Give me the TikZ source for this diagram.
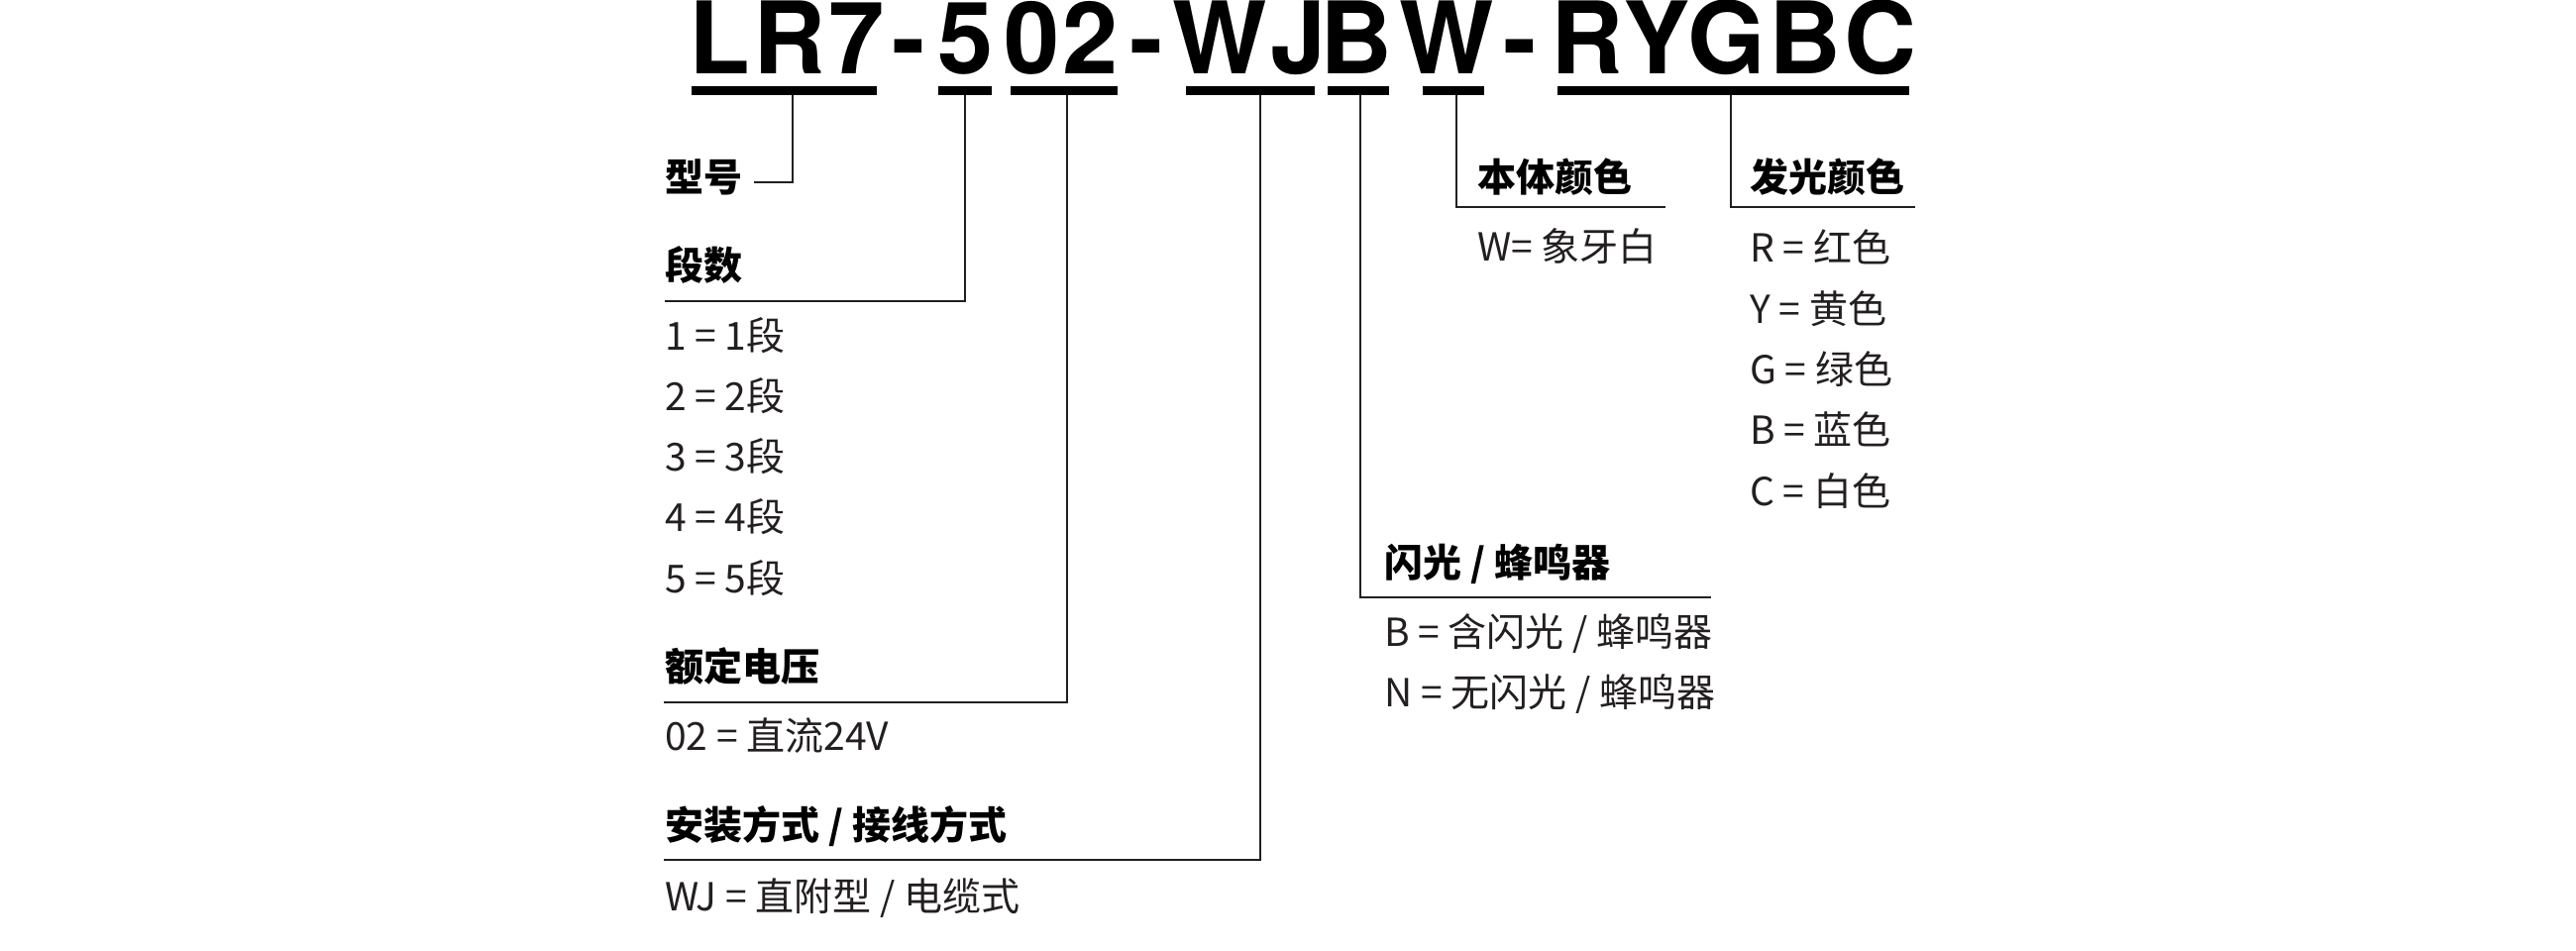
\documentclass[tikz,border=0pt]{standalone}
\usepackage{fontspec}
\usepackage{xcolor}
\newfontfamily\cjk{Noto Sans CJK SC}
\newfontfamily\codefont{TeX Gyre Heros}[LetterSpace=3.5]
\usetikzlibrary{positioning}
\definecolor{inkgray}{HTML}{231F20}

\tikzset{
    code/.style={font=\codefont\bfseries\fontsize{101}{101}\selectfont, inner sep=0pt, anchor=base west},
    codebar/.style={line width=9pt, line cap=butt},
    head/.style={font=\cjk\bfseries\fontsize{39}{39}\selectfont, text=black, inner sep=0pt, anchor=base west},
    val/.style={font=\cjk\fontsize{39}{39}\selectfont, text=inkgray, inner sep=0pt, anchor=base west},
    nextrow/.style={below=61.3pt of #1.base west, anchor=base west},
    lead/.style={draw=inkgray, line width=1.5pt}
}

\begin{document}
\begin{tikzpicture}[x=1pt, y=-1pt]

    \useasboundingbox (0,0) rectangle (2600,960);

    % code string
    \node[code] (lr7) at (695,75) {LR7};
    \node[code] (d1) at (900,75) {-};
    \node[code] (n5) at (946,75) {5};
    \node[code] (n02) at (1013,75) {02};
    \node[code] (d2) at (1140,75) {-};
    \node[code] (wj) at (1183,75) {WJ};
    \node[code] (fb) at (1332,75) {B};
    \node[code] (bw) at (1412,75) {W};
    \node[code] (d3) at (1517,75) {-};
    \node[code] (rygbc) at (1565,75) {RYGBC};

    \draw[codebar] (698,91.5) -- (885,91.5);
    \draw[codebar] (947,91.5) -- (1001,91.5);
    \draw[codebar] (1020,91.5) -- (1128,91.5);
    \draw[codebar] (1197,91.5) -- (1327,91.5);
    \draw[codebar] (1340,91.5) -- (1402,91.5);
    \draw[codebar] (1436,91.5) -- (1498,91.5);
    \draw[codebar] (1572,91.5) -- (1927,91.5);

    \coordinate (t1) at (800,96);
    \coordinate (t2) at (974,96);
    \coordinate (t3) at (1077,96);
    \coordinate (t4) at (1272,96);
    \coordinate (t5) at (1373,96);
    \coordinate (t6) at (1470,96);
    \coordinate (t7) at (1747,96);

    \coordinate (k1) at (761,184);
    \coordinate (k2) at (671,304);
    \coordinate (k3) at (670,709);
    \coordinate (k4) at (670,868);
    \coordinate (k5) at (1727,603);
    \coordinate (k6) at (1681,209);
    \coordinate (k7) at (1933,209);

    % headings
    \node[head] (hd1) at (671,194) {型号};
    \node[head] (hd2) at (671,282) {段数};
    \node[head] (hd3) at (671,687) {额定电压};
    \node[head] (hd4) at (671,847) {安装方式 / 接线方式};
    \node[head] (hd5) at (1397,582) {闪光 / 蜂鸣器};
    \node[head] (hd6) at (1491,194) {本体颜色};
    \node[head] (hd7) at (1766,194) {发光颜色};

    % values
    \node[val] (s1) at (671,353) {1 = 1段};
    \node[val, nextrow=s1] (s2) {2 = 2段};
    \node[val, nextrow=s2] (s3) {3 = 3段};
    \node[val, nextrow=s3] (s4) {4 = 4段};
    \node[val, nextrow=s4] (s5) {5 = 5段};

    \node[val] (u1) at (671,757) {02 = 直流24V};
    \node[val] (m1) at (671,919) {WJ = 直附型 / 电缆式};

    \node[val] (f1) at (1397,652) {B = 含闪光 / 蜂鸣器};
    \node[val, nextrow=f1] (f2) {N = 无闪光 / 蜂鸣器};

    \node[val] (w1) at (1491,264) {W= 象牙白};

    \node[val] (l1) at (1766,265) {R = 红色};
    \node[val, nextrow=l1] (l2) {Y = 黄色};
    \node[val, nextrow=l2] (l3) {G = 绿色};
    \node[val, nextrow=l3] (l4) {B = 蓝色};
    \node[val, nextrow=l4] (l5) {C = 白色};

    \draw[lead]
        (t1) |- (k1)
        (t2) |- (k2)
        (t3) |- (k3)
        (t4) |- (k4)
        (t5) |- (k5)
        (t6) |- (k6)
        (t7) |- (k7);

\end{tikzpicture}
\end{document}
